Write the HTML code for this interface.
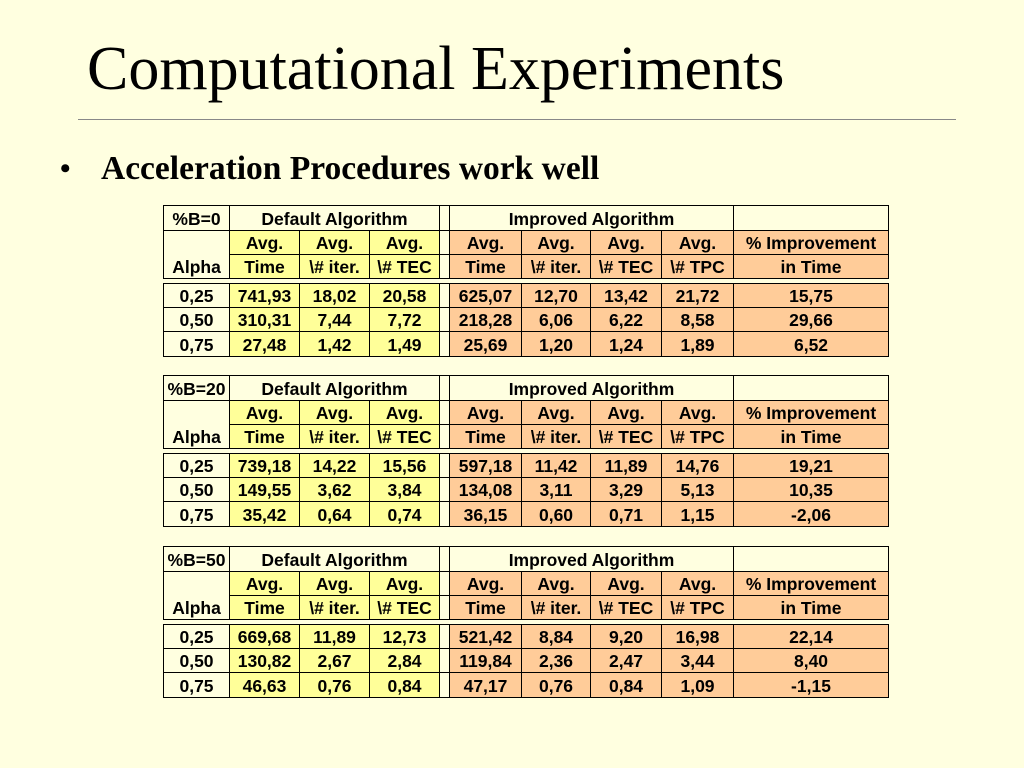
<!DOCTYPE html>
<html><head><meta charset="utf-8"><style>
body{margin:0;width:1024px;height:768px;background:#ffffe0;position:relative;overflow:hidden;font-family:"Liberation Sans",sans-serif}
.c{position:absolute;box-sizing:border-box;border:1px solid #000;font-weight:bold;font-size:17.5px;text-align:center;display:flex;align-items:center;justify-content:center;color:#000;padding-top:2px;white-space:nowrap}
</style></head><body>
<div style="position:absolute;left:87px;top:34px;font-family:'Liberation Serif',serif;font-size:62px;line-height:70px;white-space:nowrap">Computational Experiments</div>
<div style="position:absolute;left:78px;top:119px;width:878px;height:1px;background:#888"></div>
<div style="position:absolute;left:60px;top:152px;font-family:'Liberation Serif',serif;font-size:30px;font-weight:bold">•</div>
<div style="position:absolute;left:101px;top:149px;font-family:'Liberation Serif',serif;font-size:33.5px;font-weight:bold;line-height:40px;white-space:nowrap">Acceleration Procedures work well</div>
<div id="root"></div>
<script>
const bLabels=["%B=0","%B=20","%B=50"];
const alphas=["0,25","0,50","0,75"];
const data=[
[["741,93","18,02","20,58","625,07","12,70","13,42","21,72","15,75"],["310,31","7,44","7,72","218,28","6,06","6,22","8,58","29,66"],["27,48","1,42","1,49","25,69","1,20","1,24","1,89","6,52"]],
[["739,18","14,22","15,56","597,18","11,42","11,89","14,76","19,21"],["149,55","3,62","3,84","134,08","3,11","3,29","5,13","10,35"],["35,42","0,64","0,74","36,15","0,60","0,71","1,15","-2,06"]],
[["669,68","11,89","12,73","521,42","8,84","9,20","16,98","22,14"],["130,82","2,67","2,84","119,84","2,36","2,47","3,44","8,40"],["46,63","0,76","0,84","47,17","0,76","0,84","1,09","-1,15"]]];
const sub1=["Avg.","Avg.","Avg.","","Avg.","Avg.","Avg.","Avg.","% Improvement"];
const sub2=["Time","\\# iter.","\\# TEC","","Time","\\# iter.","\\# TEC","\\# TPC","in Time"];
const cx=[163,229,299,369,439,449,521,590,661,733,888];
const tops=[205,375,546];
const Y=[0,25,49,73,78,102,126,151];
const root=document.getElementById('root');
const CREAM="#ffffe0",YEL="#ffff99",ORA="#ffcc99";
function cell(x1,x2,y1,y2,txt,bg,name){
  const d=document.createElement('div');d.className='c';
  d.style.left=x1+'px';d.style.top=y1+'px';d.style.width=(x2-x1+1)+'px';d.style.height=(y2-y1+1)+'px';d.style.background=bg;
  d.textContent=txt;
  
  
  root.appendChild(d);
}
function colBg(i){return i<=3&&i>=1?YEL:(i>=5?ORA:CREAM);}
tops.forEach((t,ti)=>{
  cell(cx[0],cx[1],t+Y[0],t+Y[1],bLabels[ti],CREAM,'table-label');
  cell(cx[1],cx[4],t+Y[0],t+Y[1],'Default Algorithm',CREAM,'default-header');
  cell(cx[4],cx[5],t+Y[0],t+Y[1],'',CREAM,'gap-cell');
  cell(cx[5],cx[9],t+Y[0],t+Y[1],'Improved Algorithm',CREAM,'improved-header');
  cell(cx[9],cx[10],t+Y[0],t+Y[1],'',CREAM,'empty-header');
  cell(cx[0],cx[1],t+Y[1],t+Y[3],'',CREAM,'alpha-header');
  const a=document.createElement('div');a.className='c';a.style.cssText=`top:${t+Y[2]}px;height:${Y[3]-Y[2]}px;border:none;left:${cx[0]+1}px;width:${cx[1]-cx[0]-1}px`;a.textContent='Alpha';
  
  
  root.appendChild(a);
  for(let i=1;i<10;i++){
    cell(cx[i],cx[i+1],t+Y[1],t+Y[2],sub1[i-1],colBg(i),'col-header-1');
    cell(cx[i],cx[i+1],t+Y[2],t+Y[3],sub2[i-1],colBg(i),'col-header-2');
  }
  for(let r=0;r<3;r++){
    cell(cx[0],cx[1],t+Y[4+r],t+Y[5+r],alphas[r],CREAM,'alpha-value');
    let k=0;
    for(let i=1;i<10;i++){
      const v=i==4?'':data[ti][r][k++];
      cell(cx[i],cx[i+1],t+Y[4+r],t+Y[5+r],v,colBg(i),'data-cell');
    }
  }
});
</script>
</body></html>
